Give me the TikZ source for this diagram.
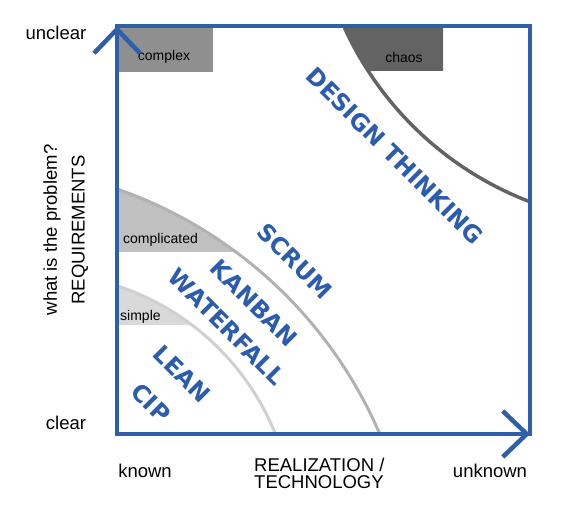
\documentclass[tikz,border=0pt]{standalone}
\usepackage{fontspec}
\setmainfont{Liberation Sans}
\newfontfamily\methodfont{DejaVu Sans}
\usepackage{tikz}
\usetikzlibrary{arrows.meta, calc}
\definecolor{axisblue}{HTML}{2F5FA8}
\definecolor{methodblue}{HTML}{2B5CAE}
\definecolor{complexgray}{HTML}{8F8F8F}
\definecolor{chaosgray}{HTML}{636363}
\definecolor{complicatedgray}{HTML}{C0C0C0}
\definecolor{simplegray}{HTML}{D9D9D9}

\begin{document}
\begin{tikzpicture}[x=1pt, y=-1pt,
    method/.style={font=\methodfont\bfseries\fontsize{23.5}{24}\selectfont, text=methodblue, rotate=-45, inner sep=0pt},
    zone/.style={font=\fontsize{14}{16}\selectfont, inner sep=0pt},
    axislabel/.style={font=\fontsize{18.5}{17}\selectfont, inner sep=0pt},
    frame/.style={axisblue, line width=4.5pt},
    axis/.style={frame, -{Straight Barb[length=24pt, width=46pt]}}]
    \useasboundingbox (0,0) rectangle (568,508);

    % ── ZONES ─────────────────────────────────────────────────────────
    \fill[complexgray] (117,26) rectangle (213,72);
    \fill[chaosgray] (650,-112) ++(155.4:336) arc[start angle=155.4, end angle=147, radius=336] -- (443,71) -- (443,26) -- cycle;
    \fill[complicatedgray] (-30,610) ++(-70.8:446) arc[start angle=-70.8, end angle=-53.4, radius=446] -- (117,252) -- cycle;
    \fill[simplegray] (37,530) ++(-71.9:257) arc[start angle=-71.9, end angle=-52.9, radius=257] -- (117,325) -- cycle;

    % Boundaries between zones
    \draw[chaosgray, line width=3.5pt] (650,-112) ++(155.4:336) arc[start angle=155.4, end angle=111.2, radius=336];
    \draw[complicatedgray!93!black, line width=3pt] (-30,610) ++(-70.8:446) arc[start angle=-70.8, end angle=-23.2, radius=446];
    \draw[simplegray!96!black, line width=3pt] (37,530) ++(-71.9:257) arc[start angle=-71.9, end angle=-21.9, radius=257];

    \node[zone] (complex) at (164,57) {complex};
    \node[zone] (chaos) at (404,57) {chaos};
    \node[zone, anchor=west] (complicated) at (123,240) {complicated};
    \node[zone, anchor=west] (simple) at (120,317) {simple};

    % ── AXES ──────────────────────────────────────────────────────────
    \coordinate (origin) at (117,434);
    \coordinate (ytip) at (117,26);
    \coordinate (xtip) at (530,434);
    \draw[frame] (origin) rectangle (530,26);
    \draw[axis] (origin) -- (ytip);
    \draw[axis] (origin) -- (xtip);

    \node[axislabel] (unclear) at (56,33) {unclear};
    \node[axislabel] (clear) at (66,423) {clear};
    \node[axislabel] (known) at (145,471) {known};
    \node[axislabel] (unknown) at (490,471) {unknown};
    \node[axislabel, align=left, anchor=west] (realization) at (254,473) {REALIZATION /\\TECHNOLOGY};
    \node[axislabel, rotate=90] (problem) at (52,230) {what is the problem?};
    \node[axislabel, rotate=90] (requirements) at (80,230) {REQUIREMENTS};

    % ── METHODS ───────────────────────────────────────────────────────
    \node[method] (designthinking) at (395,156) {DESIGN THINKING};
    \node[method] (scrum) at (295,261) {SCRUM};
    \node[method] (kanban) at (254,303) {KANBAN};
    \node[method] (waterfall) at (227,327) {WATERFALL};
    \node[method] (lean) at (182,374) {LEAN};
    \node[method] (cip) at (151,403) {CIP};
\end{tikzpicture}
\end{document}
